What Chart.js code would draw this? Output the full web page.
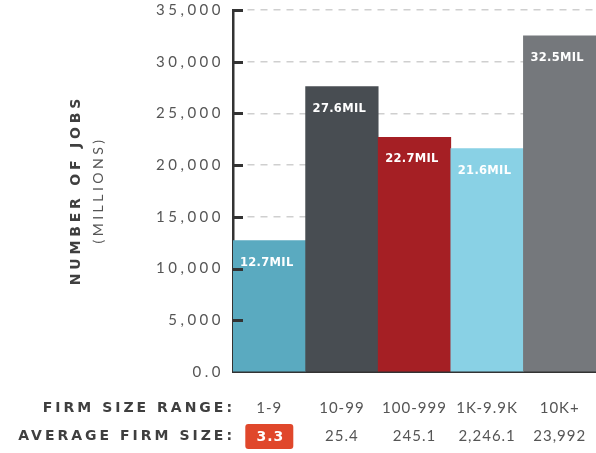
<!DOCTYPE html>
<html>
<head>
<meta charset="utf-8">
<script src="https://cdn.jsdelivr.net/npm/chart.js@4/dist/chart.umd.min.js"></script>
<style>
  html, body { margin: 0; padding: 0; background: #fff; overflow: hidden; }
  #wrap { width: 596px; height: 453px; position: relative; }
</style>
</head>
<body>
<div id="wrap"><canvas id="myChart"></canvas></div>
<script>
// chart values
const firmRanges = ['1-9', '10-99', '100-999', '1K-9.9K', '10K+'];
const avgFirmSize = ['3.3', '25.4', '245.1', '2,246.1', '23,992'];
const jobs = [12700, 27600, 22700, 21600, 32500];
const jobLabels = ['12.7MIL', '27.6MIL', '22.7MIL', '21.6MIL', '32.5MIL'];
const barColors = ['#5aaac0', '#484d52', '#a51f24', '#89d1e5', '#75787c'];
const yMax = 35000;
const yStep = 5000;

const labelFont = 'Lato, "DejaVu Sans", sans-serif';
const boldFont = '"DejaVu Sans", Lato, sans-serif';

// y tick spacing on, x ticks drawn later with less spacing
const spacingPlugin = {
  id: 'spacing',
  beforeDraw(chart) {
    chart.ctx.letterSpacing = '3.5px';
  },
  beforeDatasetsDraw(chart) {
    chart.ctx.letterSpacing = '1px';
  }
};

const extrasPlugin = {
  id: 'extras',
  afterDraw(chart) {
    const ctx = chart.ctx;
    const area = chart.chartArea;
    const yScale = chart.scales.y;
    const xScale = chart.scales.x;

    // tick marks inside the axis
    ctx.save();
    ctx.letterSpacing = '0px';
    ctx.strokeStyle = '#333';
    ctx.lineWidth = 3;
    for (let v = yStep; v <= yMax; v += yStep) {
      const py = Math.round(yScale.getPixelForValue(v)) + 0.5;
      ctx.beginPath();
      ctx.moveTo(area.left, py);
      ctx.lineTo(area.left + 10, py);
      ctx.stroke();
    }
    ctx.restore();

    // value labels inside bars
    const meta = chart.getDatasetMeta(0);
    ctx.save();
    ctx.letterSpacing = '0.3px';
    ctx.fillStyle = '#fff';
    ctx.font = 'bold 11.5px ' + boldFont;
    ctx.textAlign = 'left';
    ctx.textBaseline = 'middle';
    meta.data.forEach((bar, i) => {
      ctx.fillText(jobLabels[i], bar.x - bar.width / 2 + 7, bar.y + 22);
    });
    ctx.restore();

    // row headers under the x axis
    const row1 = area.bottom + 22 + 14;
    const row2 = row1 + 28;
    ctx.save();
    ctx.letterSpacing = '3px';
    ctx.fillStyle = '#3f3f3f';
    ctx.font = 'bold 14px ' + boldFont;
    ctx.textAlign = 'right';
    ctx.textBaseline = 'middle';
    ctx.fillText('FIRM SIZE RANGE:', area.left + 2, row1);
    ctx.fillText('AVERAGE FIRM SIZE:', area.left + 2, row2);
    ctx.restore();

    // highlighted first average
    const bx = xScale.getPixelForTick(0);
    ctx.save();
    ctx.fillStyle = '#e0472b';
    ctx.beginPath();
    ctx.roundRect(bx - 24, row2 - 12, 48, 25, 3);
    ctx.fill();
    ctx.fillStyle = '#fff';
    ctx.letterSpacing = '1px';
    ctx.font = 'bold 14px ' + boldFont;
    ctx.textAlign = 'center';
    ctx.textBaseline = 'middle';
    ctx.fillText(avgFirmSize[0], bx + 1, row2 + 1);
    ctx.restore();

    // y axis title
    ctx.save();
    ctx.translate(76, 190);
    ctx.rotate(-Math.PI / 2);
    ctx.textAlign = 'center';
    ctx.textBaseline = 'middle';
    ctx.letterSpacing = '3.8px';
    ctx.fillStyle = '#3f3f3f';
    ctx.font = 'bold 14px ' + boldFont;
    ctx.fillText('NUMBER OF JOBS', 0, 0);
    ctx.font = '14px ' + labelFont;
    ctx.letterSpacing = '3.5px';
    ctx.fillStyle = '#555';
    ctx.fillText('(MILLIONS)', 0, 22);
    ctx.restore();
  }
};

const ctx1 = document.getElementById('myChart').getContext('2d');

new Chart(ctx1, {
  type: 'bar',
  data: {
    labels: firmRanges.map((r, i) => [r, i === 0 ? '' : avgFirmSize[i]]),
    datasets: [{
      data: jobs,
      backgroundColor: barColors,
      borderWidth: 0,
      barPercentage: 1,
      categoryPercentage: 1
    }]
  },
  options: {
    responsive: true,
    maintainAspectRatio: false,
    animation: false,
    layout: { padding: 0 },
    plugins: {
      legend: { display: false },
      tooltip: { enabled: false }
    },
    scales: {
      x: {
        grid: { display: false, drawTicks: false },
        border: { display: true, color: '#333', width: 2 },
        ticks: {
          z: 1,
          padding: 22,
          color: '#555',
          maxRotation: 0,
          autoSkip: false,
          font: { family: labelFont, size: 15, lineHeight: 1.87 }
        },
        afterFit(scale) {
          scale.height = 81;
          scale.paddingLeft = 0;
          scale.paddingRight = 0;
        }
      },
      y: {
        min: 0,
        max: yMax,
        ticks: {
          stepSize: yStep,
          padding: 9,
          color: '#555',
          font: { family: labelFont, size: 15 },
          callback: v => v === 0 ? '0.0' : v.toLocaleString('en-US')
        },
        grid: {
          drawTicks: false,
          color: ctx => ctx.tick && ctx.tick.value === 0 ? 'rgba(0,0,0,0)' : '#cfcfcf',
          lineWidth: 1.5
        },
        border: { display: true, color: '#333', width: 2.5, dash: [7, 6] },
        afterFit(scale) {
          scale.width = 233;
          scale.paddingTop = 10;
          scale.paddingBottom = 0;
        }
      }
    }
  },
  plugins: [spacingPlugin, extrasPlugin]
});
</script>
</body>
</html>
